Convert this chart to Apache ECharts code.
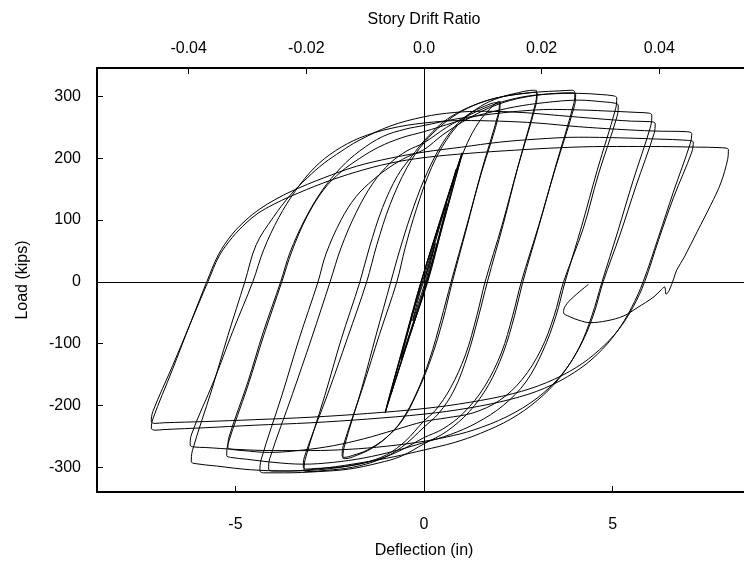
<!DOCTYPE html>
<html>
<head>
<meta charset="utf-8">
<script src="https://cdn.jsdelivr.net/npm/echarts@6/dist/echarts.min.js"></script>
<style>
  html, body { margin: 0; padding: 0; background: #fff; }
  #chart { width: 744px; height: 569px; }
</style>
</head>
<body>
<div id="chart"></div>
<script>
// ---- Data: [deflection (in), load (kips)] ----
const elastic = [
  [0,0],[0.15,30],[0.3,62],[0.27,54],[0.12,18],[0.02,-3],[-0.15,-35],[-0.3,-63],[-0.27,-55],[-0.1,-16],[0,2],
  [0.3,65],[0.6,128],[0.56,114],[0.3,52],[0.03,-6],[-0.3,-68],[-0.6,-124],[-0.56,-112],[-0.3,-52],[-0.02,4],
  [0.4,90],[0.85,182],[0.8,166],[0.4,74],[0.05,-6],[-0.4,-92],[-0.87,-181],[-0.83,-168],[-0.4,-76],[-0.04,6],
  [0.5,114],[1.01,209],[0.95,193],[0.5,92],[0.08,0],[-0.5,-110],[-1.03,-212],[-0.97,-197],[-0.5,-94],[-0.07,2],
  [0.5,112],[1.0,207],[0.94,191],[0.5,93],[0.1,0],[-0.5,-108],[-1.02,-210],[-0.96,-195],[-0.5,-92],[-0.08,0]
];
const loop2in = [
  [0.5,110],[0.9,185],[1.15,225],[1.45,258],[1.75,280],[1.95,291],[2.02,292],
  [2.0,275],[1.52,176],[1.12,88],[0.72,0],
  [0.45,-62],[0.15,-125],[-0.2,-180],[-0.6,-225],[-1.0,-252],[-1.4,-270],[-1.8,-281],[-2.08,-286],[-2.15,-285],
  [-2.12,-268],[-1.65,-172],[-1.27,-86],[-0.88,0],
  [-0.65,50],[-0.35,108],[0,165],[0.4,215],[0.8,250],[1.2,272],[1.6,284],[1.92,290],[2.0,289],
  [1.97,272],[1.5,174],[1.13,87],[0.75,0],
  [0.5,-62],[0.2,-122],[-0.15,-175],[-0.55,-222],[-1.0,-252],[-1.5,-272],[-1.9,-281],[-2.12,-284],[-2.17,-282],
  [-2.14,-265],[-1.62,-170],[-1.18,-85],[-0.72,0]
];
const loop3in = [
  [-0.5,55],[-0.2,118],[0.2,185],[0.6,230],[1.0,260],[1.5,284],[2.0,298],[2.5,306],[2.9,310],[2.99,309],
  [2.96,290],[2.49,186],[2.1,93],[1.68,0],
  [1.45,-55],[1.15,-120],[0.8,-175],[0.4,-212],[0,-235],[-0.6,-268],[-1.2,-288],[-1.9,-300],[-2.6,-305],[-3.08,-307],[-3.18,-305],
  [-3.15,-287],[-2.63,-184],[-2.19,-92],[-1.7,0],
  [-1.45,55],[-1.1,120],[-0.7,172],[-0.3,205],[0,228],[0.5,258],[1.0,277],[1.6,292],[2.2,301],[2.8,306],[2.95,307],[3.0,305],
  [2.97,287],[2.48,184],[2.07,92],[1.62,0],
  [1.4,-55],[1.1,-118],[0.7,-172],[0.3,-208],[0,-225],[-0.5,-258],[-1.0,-280],[-1.6,-293],[-2.3,-300],[-2.9,-302],[-3.12,-303],[-3.2,-300],
  [-3.17,-283],[-2.55,-181],[-2.03,-91],[-1.52,0]
];
const loop4in = [
  [-1.25,60],[-0.9,125],[-0.45,185],[0,225],[0.5,255],[1.0,276],[1.6,292],[2.2,301],[3.0,307],[3.6,309],[3.92,310],[4.0,307],
  [3.97,288],[3.48,185],[3.06,93],[2.62,0],
  [2.4,-55],[2.1,-115],[1.7,-168],[1.2,-210],[0.6,-242],[0,-262],[-0.6,-282],[-1.2,-293],[-2.0,-303],[-2.8,-307],[-3.7,-309],[-4.25,-309],[-4.35,-306],
  [-4.32,-288],[-3.77,-184],[-3.31,-92],[-2.81,0],
  [-2.6,45],[-2.2,100],[-1.8,138],[-1.35,165],[-0.9,186],[-0.45,202],[0,214],[0.5,238],[1.0,258],[1.5,275],[2.0,288],[2.6,298],[3.3,304],[3.92,306],[4.02,303],
  [3.99,285],[3.48,183],[3.04,91],[2.58,0],
  [2.35,-55],[2.05,-115],[1.6,-170],[1.05,-212],[0.5,-238],[0,-252],[-0.6,-272],[-1.2,-287],[-2.0,-298],[-2.8,-304],[-3.5,-306],[-4.02,-306],[-4.12,-303],
  [-4.09,-286],[-3.49,-182],[-2.98,-91],[-2.49,0]
];
const loop5in = [
  [-2.2,55],[-1.8,112],[-1.35,160],[-0.9,192],[-0.45,212],[0,225],[0.6,250],[1.2,270],[1.9,288],[2.6,299],[3.3,304],[4.1,305],[4.7,303],[5.02,301],[5.11,298],
  [5.08,280],[4.59,180],[4.18,90],[3.74,0],
  [3.5,-55],[3.15,-112],[2.7,-162],[2.1,-200],[1.4,-228],[0.7,-247],[0,-260],[-0.8,-274],[-1.6,-285],[-2.4,-292],[-3.2,-295],[-4.0,-292],[-4.7,-287],[-5.13,-284],[-5.23,-281],
  [-5.2,-263],[-4.68,-170],[-4.24,-85],[-3.77,0],
  [-3.5,50],[-3.1,106],[-2.65,150],[-2.2,178],[-1.7,200],[-1.2,218],[-0.6,233],[0,243],[0.8,258],[1.6,272],[2.4,283],[3.2,290],[4.1,294],[4.8,291],[5.07,289],[5.15,286],
  [5.12,268],[4.62,173],[4.22,86],[3.7,0],
  [3.45,-55],[3.1,-110],[2.6,-158],[2.0,-192],[1.3,-212],[0.6,-220],[0,-226],[-0.8,-240],[-1.6,-254],[-2.4,-265],[-3.2,-272],[-4.1,-276],[-4.8,-273],[-5.1,-271],[-5.2,-268],
  [-5.17,-251],[-4.67,-162],[-4.26,-81],[-3.8,0]
];
const loop6in = [
  [-3.55,48],[-3.15,102],[-2.7,148],[-2.2,185],[-1.7,212],[-1.1,235],[-0.5,247],[0,253],[0.8,263],[1.6,270],[2.5,276],[3.4,279],[4.2,278],[5.0,276],[5.7,274],[5.96,273],[6.04,270],
  [6.01,252],[5.54,163],[5.14,82],[4.72,0],
  [4.45,-55],[4.1,-108],[3.6,-155],[3.0,-192],[2.3,-222],[1.5,-245],[0.8,-260],[0,-272],[-0.8,-283],[-1.6,-292],[-2.6,-301],[-3.6,-306],[-4.6,-304],[-5.5,-298],[-6.07,-294],[-6.17,-291],
  [-6.14,-273],[-5.63,-175],[-5.2,-87],[-4.75,0],
  [-4.45,60],[-4.0,104],[-3.55,140],[-3.1,168],[-2.65,192],[-2.2,211],[-1.75,228],[-0.9,252],[0,267],[0.8,274],[1.6,276],[2.6,274],[3.6,269],[4.6,264],[5.5,260],[6.05,259],[6.13,256],
  [6.1,240],[5.62,155],[5.2,77],[4.75,0],
  [4.5,-52],[4.15,-103],[3.65,-150],[3.0,-188],[2.2,-218],[1.3,-240],[0.6,-251],[0,-258],[-1.0,-266],[-2.0,-271],[-3.0,-273],[-4.0,-273],[-5.0,-271],[-5.8,-268],[-6.12,-267],[-6.2,-264],
  [-6.17,-248],[-5.57,-160],[-5.07,-80],[-4.54,0]
];
const loop7in = [
  [-4.25,52],[-3.85,104],[-3.4,148],[-2.9,185],[-2.35,212],[-1.7,233],[-0.9,248],[0,257],[1.0,261],[2.0,260],[3.0,257],[4.1,251],[5.1,247],[6.1,244],[6.95,243],[7.1,240],
  [7.06,224],[6.61,145],[6.22,73],[5.81,0],
  [5.5,-42],[5.1,-82],[4.6,-117],[4.0,-146],[3.2,-172],[2.3,-190],[1.2,-204],[0,-214],[-1.5,-222],[-3.0,-228],[-4.5,-232],[-5.8,-236],[-6.9,-239],[-7.13,-240],[-7.23,-237],
  [-7.19,-222],[-6.67,-142],[-6.22,-71],[-5.76,0],
  [-5.45,44],[-5.1,76],[-4.72,100],[-4.35,118],[-3.95,133],[-3.5,147],[-2.67,168],[-1.79,187],[-0.9,200],[0,210],[1.0,218],[2.0,226],[3.0,231],[4.1,234],[5.2,233],[6.2,231],[6.98,229],[7.14,226],
  [7.1,210],[6.62,137],[6.22,68],[5.85,0],
  [5.55,-40],[5.15,-78],[4.65,-110],[4.05,-138],[3.25,-163],[2.35,-181],[1.2,-195],[0,-205],[-1.5,-213],[-3.0,-219],[-4.5,-223],[-5.8,-226],[-6.9,-228],[-7.13,-229],[-7.23,-226],
  [-7.19,-210],[-6.66,-135],[-6.2,-68],[-5.73,0]
];
const finalPush = [
  [-5.43,42],[-5.08,72],[-4.72,95],[-4.4,111],[-4.0,125],[-3.55,138],[-2.67,160],[-1.79,178],[-0.9,192],[0,201],[1.2,208],[2.4,213],[3.6,217],[4.8,219],[6.0,219],[7.2,218],[7.9,217],[8.07,214],
  [8.05,198],[7.87,160],[7.6,124],[7.25,82],[6.9,40],[6.7,19],[6.62,5],[6.5,-14],[6.42,-20],[6.38,-8],[6.3,-12],[6.1,-24],
  [5.65,-42],[5.3,-55],[4.85,-63],[4.4,-66],[4.1,-62],[3.85,-56],[3.7,-50],[3.72,-42],[3.9,-28],[4.36,-4]
];

const deflectionTicks = [-5, 0, 5];
const driftTicks = [-0.04, -0.02, 0, 0.02, 0.04];
const loadTicks = [-300, -200, -100, 0, 100, 200, 300];
const storyHeight = 156; // in, drift ratio = deflection / storyHeight
const deflRange = [-8.67, 8.67];
const loadRange = [-340, 346];

const path = [].concat(elastic, loop2in, loop3in, loop4in, loop5in, loop6in, loop7in, finalPush);

const chart = echarts.init(document.getElementById('chart'), null, { renderer: 'canvas' });
const font = '"Liberation Sans", Arial, Helvetica, sans-serif';
const fs = 16;
const axisCommon = {
  type: 'value',
  splitLine: { show: false },
  axisLine: { show: true, onZero: false, lineStyle: { color: '#000', width: 2 } },
  axisTick: { show: true, inside: true, length: 6, lineStyle: { color: '#000', width: 1 } },
  nameTextStyle: { fontFamily: font, fontSize: fs, color: '#000' }
};

chart.setOption({
  animation: false,
  backgroundColor: '#fff',
  grid: { left: 97, top: 68, width: 654, height: 424, containLabel: false, outerBoundsMode: 'none' },
  xAxis: [
    Object.assign({}, axisCommon, {
      position: 'bottom',
      min: deflRange[0], max: deflRange[1],
      name: 'Deflection (in)', nameLocation: 'middle', nameGap: 51,
      axisTick: Object.assign({}, axisCommon.axisTick, { customValues: deflectionTicks }),
      axisLabel: { customValues: deflectionTicks, margin: 25, fontFamily: font, fontSize: fs, color: '#000' }
    }),
    Object.assign({}, axisCommon, {
      position: 'top',
      min: deflRange[0] / storyHeight, max: deflRange[1] / storyHeight,
      name: 'Story Drift Ratio', nameLocation: 'middle', nameGap: 40,
      axisTick: Object.assign({}, axisCommon.axisTick, { customValues: driftTicks }),
      axisLabel: {
        customValues: driftTicks, margin: 11, fontFamily: font, fontSize: fs, color: '#000',
        formatter: v => (Math.abs(v) < 1e-9 ? '0.0' : v.toFixed(2))
      }
    })
  ],
  yAxis: Object.assign({}, axisCommon, {
    min: loadRange[0], max: loadRange[1],
    name: 'Load (kips)', nameLocation: 'middle', nameGap: 66, nameRotate: 90,
    axisTick: Object.assign({}, axisCommon.axisTick, { customValues: loadTicks }),
    axisLabel: { customValues: loadTicks, margin: 16, fontFamily: font, fontSize: fs, color: '#000' }
  }),
  series: [{
    type: 'line',
    xAxisIndex: 0,
    yAxisIndex: 0,
    data: path,
    showSymbol: false,
    symbol: 'none',
    smooth: 0.35,
    lineStyle: { color: '#000', width: 1 },
    silent: true,
    markLine: {
      silent: true,
      symbol: 'none',
      label: { show: false },
      lineStyle: { color: '#000', width: 1, type: 'solid' },
      data: [{ xAxis: 0 }, { yAxis: 0 }]
    }
  }]
});
</script>
</body>
</html>
